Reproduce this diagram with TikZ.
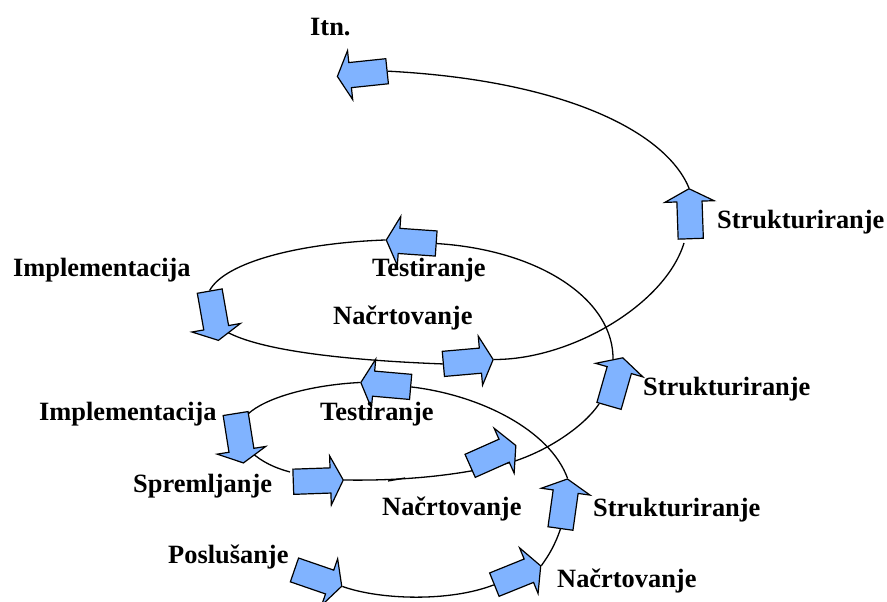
\documentclass[tikz,border=0pt]{standalone}
\usepackage{fontspec}
\setmainfont{Liberation Serif}
\usetikzlibrary{shapes.arrows,backgrounds}
\definecolor{arrowblue}{RGB}{128,179,255}
\tikzset{
  barrow/.style={shape=single arrow, draw=black, fill=arrowblue, line width=1.2pt,
    inner xsep=0pt, inner ysep=12pt, minimum width=0pt, minimum height=50pt,
    single arrow head extend=12pt, single arrow tip angle=125, anchor=center},
  lbl/.style={anchor=base west, inner sep=0pt, font=\bfseries\fontsize{26.4}{30}\selectfont},
  spiral/.style={draw=black, line width=1.3pt}
}
\begin{document}
\begin{tikzpicture}[x=1pt,y=-1pt]
\useasboundingbox (0,0) rectangle (887,602);

% block arrows along the spiral
\node[barrow, rotate=186] (a1)  at (365.5,73.5) {};
\node[barrow, rotate=92]  (a2)  at (690,217) {};
\node[barrow, rotate=176] (a3)  at (414.5,242) {};
\node[barrow, rotate=280] (a4)  at (213.5,312.5) {};
\node[barrow, rotate=5]   (a5)  at (465,362) {};
\node[barrow, rotate=74]  (a6)  at (615,385) {};
\node[barrow, rotate=175] (a7)  at (389,385) {};
\node[barrow, rotate=279] (a8)  at (239,435) {};
\node[barrow, rotate=2]   (a9)  at (315,481) {};
\node[barrow, rotate=24]  (a10) at (490,457) {};
\node[barrow, rotate=82]  (a11) at (563.5,507) {};
\node[barrow, rotate=-19] (a12) at (315,577) {};
\node[barrow, rotate=22]  (a13) at (514.5,576.5) {};

% labels
\node[lbl] (t1)  at (310,36)  {Itn.};
\node[lbl] (t2)  at (717,228) {Strukturiranje};
\node[lbl] (t3)  at (13,276)  {Implementacija};
\node[lbl] (t4)  at (372,276) {Testiranje};
\node[lbl] (t5)  at (333,324) {Načrtovanje};
\node[lbl] (t6)  at (643,395) {Strukturiranje};
\node[lbl] (t7)  at (39,420)  {Implementacija};
\node[lbl] (t8)  at (320,420) {Testiranje};
\node[lbl] (t9)  at (133,492) {Spremljanje};
\node[lbl] (t10) at (382,515) {Načrtovanje};
\node[lbl] (t11) at (593,516) {Strukturiranje};
\node[lbl] (t12) at (168,563) {Poslušanje};
\node[lbl] (t13) at (557,587) {Načrtovanje};

% attachment points of the spiral where it meets an arrow off its axis
\coordinate (c8in)  at (248,414);
\coordinate (c8out) at (251,452);
\coordinate (c9in)  at (290,472);
\coordinate (c10)   at (512,462);
\coordinate (c6in)  at (599,404);
\coordinate (c6out) at (613,361);
\coordinate (c4out) at (227,332);
\coordinate (c2in)  at (684,243);
\coordinate (j1)    at (388,481);
\coordinate (j2)    at (405,478);

\begin{pgfonlayer}{background}
  \draw[spiral] (a12.tip) .. controls (380,600) and (450,602) .. (a13.tail);
  \draw[spiral] (a13.tip) .. controls (549,555) and (555,545) .. (a11.tail);
  \draw[spiral] (a11.tip) .. controls (550,430) and (480,395) .. (a7.tail);
  \draw[spiral] (a7.tip) .. controls (310,385) and (265,398) .. (c8in);
  \draw[spiral] (c8out) .. controls (262,462) and (275,468) .. (c9in);
  \draw[spiral] (a9.tip) .. controls (400,481) and (460,476) .. (c10)
                         .. controls (550,450) and (585,425) .. (c6in);
  \draw[spiral] (j1) -- (j2);
  \draw[spiral] (c6out) .. controls (615,300) and (540,250) .. (a3.tail);
  \draw[spiral] (a3.tip) .. controls (300,243) and (225,262) .. (a4.tail);
  \draw[spiral] (c4out) .. controls (260,350) and (340,360) .. (a5.tail);
  \draw[spiral] (a5.tip) .. controls (570,360) and (665,305) .. (c2in);
  \draw[spiral] (a2.tip) .. controls (665,130) and (560,80) .. (a1.tail);
\end{pgfonlayer}
\end{tikzpicture}
\end{document}
